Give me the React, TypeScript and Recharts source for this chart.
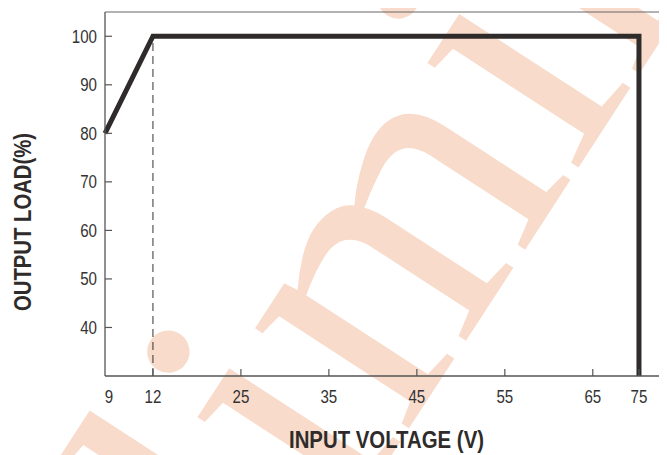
import { ComposedChart, Line, XAxis, YAxis, ReferenceLine, Label } from "recharts";

// derating curve: output load vs input voltage
const TICK_VOLTS = [9, 12, 25, 35, 45, 55, 65, 75];
// the voltage axis is not linear: where each tick sits, in grid steps
const TICK_STEPS = [0, 0.545, 1.545, 2.545, 3.545, 4.545, 5.545, 6.07];
const LOAD_TICKS = [40, 50, 60, 70, 80, 90, 100];
const CURVE_VOLTS = [9, 12, 75, 75];
const CURVE_LOAD = [80, 100, 100, 30];
const KNEE_VOLT = 12;
const KNEE_LOAD = [30, 100];

const INK = "#2f2b2a";
const AXIS = "#555";
const FONT = "'Liberation Sans', Arial, sans-serif";

// piecewise map of a voltage onto the axis
function toStep(v: number) {
  for (let i = 1; i < TICK_VOLTS.length; i++) {
    if (v <= TICK_VOLTS[i]) {
      const t = (v - TICK_VOLTS[i - 1]) / (TICK_VOLTS[i] - TICK_VOLTS[i - 1]);
      return TICK_STEPS[i - 1] + t * (TICK_STEPS[i] - TICK_STEPS[i - 1]);
    }
  }
  return TICK_STEPS[TICK_STEPS.length - 1];
}

const curve = CURVE_VOLTS.map((v, i) => ({ x: toStep(v), load: CURVE_LOAD[i] }));

const XTick = (props: any) => {
  const { x, y, payload } = props;
  const label = String(TICK_VOLTS[payload.index]);
  return (
    <g>
      {payload.index > 0 && <line x1={x} x2={x} y1={y} y2={y - 7} stroke={AXIS} strokeWidth={1.2} />}
      <text x={x + (payload.index === 0 ? 4 : 0)} y={y + 27} textAnchor="middle" fontFamily={FONT} fontSize={18}
        fill="#333" textLength={label.length * 8.4} lengthAdjust="spacingAndGlyphs">{label}</text>
    </g>
  );
};

const YTick = (props: any) => {
  const { x, y, payload } = props;
  const label = String(payload.value);
  return (
    <g>
      <line x1={x + 8} x2={x + 15} y1={y} y2={y} stroke={AXIS} strokeWidth={1.2} />
      <text x={x} y={y + 6.5} textAnchor="end" fontFamily={FONT} fontSize={18}
        fill="#333" textLength={label.length * 8.4} lengthAdjust="spacingAndGlyphs">{label}</text>
    </g>
  );
};

const RightTick = (props: any) => {
  const { x, y } = props;
  return <line x1={x - 5} x2={x} y1={y} y2={y} stroke={AXIS} strokeWidth={1.2} />;
};

const XTitle = (props: any) => {
  const vb = props.viewBox;
  return (
    <text x={vb.x + vb.width / 2} y={448} textAnchor="middle" fontFamily={FONT} fontWeight="bold"
      fontSize={23} fill={INK} textLength={195} lengthAdjust="spacingAndGlyphs">INPUT VOLTAGE (V)</text>
  );
};

const YTitle = () => (
  <text transform="translate(31,222) rotate(-90)" x={0} y={0} textAnchor="middle" fontFamily={FONT}
    fontWeight="bold" fontSize={23} fill={INK} textLength={178} lengthAdjust="spacingAndGlyphs">OUTPUT LOAD(%)</text>
);

export default function App() {
  return (
    <div style={{ position: "relative", width: 667, height: 455, margin: "-8px 0 0 -8px", overflow: "hidden", background: "#fff" }}>
      {/* watermark behind the chart */}
      <svg width={667} height={455} style={{ position: "absolute", left: 0, top: 0 }}>
        <text transform="translate(-7,1069) rotate(-57)" x={0} y={0} fontFamily="'Liberation Serif', serif"
          fontSize={400} fill="#f8dbcb">Preliminary</text>
      </svg>
      <div style={{ position: "absolute", left: 0, top: 0 }}>
        <ComposedChart width={680} height={455} data={curve} margin={{ top: 12, right: 8, bottom: 0, left: 0 }}>
          <XAxis dataKey="x" type="number" domain={[0, 6.4]} ticks={TICK_STEPS} interval={0}
            height={79} tickSize={0} tickMargin={0} tick={<XTick />} axisLine={{ stroke: AXIS, strokeWidth: 1.3 }}>
            <Label content={<XTitle />} />
          </XAxis>
          <YAxis yAxisId="l" type="number" domain={[30, 105]} ticks={LOAD_TICKS} interval={0} width={105}
            tickSize={0} tickMargin={8} tick={<YTick />} axisLine={{ stroke: AXIS, strokeWidth: 1.3 }}>
            <Label content={<YTitle />} />
          </YAxis>
          <YAxis yAxisId="r" orientation="right" type="number" domain={[30, 105]} ticks={LOAD_TICKS} interval={0}
            width={4} tickSize={0} tickMargin={0} tick={<RightTick />} axisLine={false} />
          <ReferenceLine yAxisId="l" y={105} stroke="#666" strokeWidth={1} />
          <ReferenceLine yAxisId="l" segment={[{ x: toStep(KNEE_VOLT), y: KNEE_LOAD[0] }, { x: toStep(KNEE_VOLT), y: KNEE_LOAD[1] }]}
            stroke="#333" strokeWidth={1} strokeDasharray="8 5" />
          <Line yAxisId="l" dataKey="load" type="linear" stroke={INK} strokeWidth={5} dot={false}
            strokeLinejoin="miter" strokeLinecap="butt" isAnimationActive={false} />
        </ComposedChart>
      </div>
    </div>
  );
}
